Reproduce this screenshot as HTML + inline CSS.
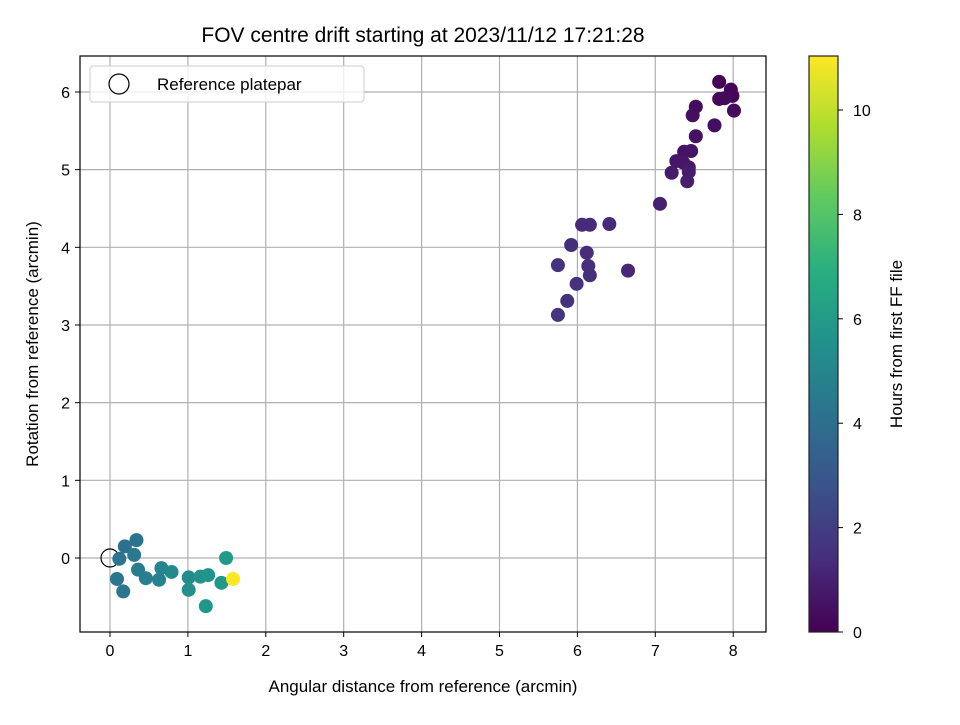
<!DOCTYPE html>
<html><head><meta charset="utf-8"><style>
body{margin:0;background:#fff}
svg text{font-family:"Liberation Sans","DejaVu Sans",sans-serif;fill:#000}
</style></head><body>
<svg id="chart" width="960" height="720" viewBox="0 0 960 720" xmlns="http://www.w3.org/2000/svg">
<defs>
<linearGradient id="vir" x1="0" y1="1" x2="0" y2="0">
<stop offset="0" stop-color="#440154"/><stop offset="0.125" stop-color="#472d7b"/><stop offset="0.25" stop-color="#3b528b"/><stop offset="0.375" stop-color="#2c728e"/><stop offset="0.5" stop-color="#21918c"/><stop offset="0.625" stop-color="#28ae80"/><stop offset="0.75" stop-color="#5ec962"/><stop offset="0.875" stop-color="#addc30"/><stop offset="1" stop-color="#fde725"/>
</linearGradient>
</defs>
<text x="423" y="42" font-size="21" text-anchor="middle">FOV centre drift starting at 2023/11/12 17:21:28</text>
<g id="grid"></g>
<g id="points"></g>
<rect x="80" y="56" width="686" height="576" fill="none" stroke="#000" stroke-width="1.2"/>
<g id="ticks"></g>
<text x="423" y="692" font-size="17" text-anchor="middle">Angular distance from reference (arcmin)</text>
<text transform="translate(38,344) rotate(-90)" font-size="17" text-anchor="middle">Rotation from reference (arcmin)</text>
<g>
<rect x="90" y="66" width="274" height="36" rx="3" fill="#fff" fill-opacity="0.8" stroke="#ccc"/>
<circle cx="119" cy="84" r="10" fill="none" stroke="#000" stroke-width="1.2"/>
<text x="157" y="90" font-size="17">Reference platepar</text>
</g>
<rect x="809" y="56" width="29" height="576" fill="url(#vir)" stroke="#222" stroke-width="1.2"/>
<g id="cbticks"></g>
<text transform="translate(902,344) rotate(-90)" font-size="17" text-anchor="middle">Hours from first FF file</text>
</svg>
<script>
const xs=[7.82,7.97,7.99,7.82,7.89,8.01,7.52,7.48,7.76,7.52,7.37,7.46,7.27,7.36,7.43,7.21,7.43,7.41,7.06,6.06,6.16,6.41,5.92,6.12,6.14,5.75,6.16,6.65,5.99,5.87,5.75,
0.34,0.19,0.12,0.31,0.36,0.09,0.17,0.46,0.66,0.79,0.63,1.01,1.01,1.16,1.26,1.23,1.43,1.49,1.58];
const ys=[6.13,6.03,5.95,5.91,5.92,5.76,5.81,5.70,5.57,5.43,5.23,5.24,5.11,5.09,5.03,4.96,4.97,4.85,4.56,4.29,4.29,4.30,4.03,3.93,3.76,3.77,3.64,3.70,3.53,3.31,3.13,
0.23,0.15,-0.01,0.04,-0.15,-0.27,-0.43,-0.26,-0.13,-0.18,-0.28,-0.25,-0.41,-0.24,-0.22,-0.62,-0.32,0.00,-0.27];
const hours=[0.05,0.1,0.15,0.2,0.25,0.3,0.35,0.4,0.45,0.5,0.55,0.6,0.65,0.7,0.75,0.8,0.85,0.9,1.0,1.3,1.35,1.3,1.45,1.4,1.5,1.55,1.5,1.2,1.55,1.6,1.65,
4.2,4.1,4.3,4.5,4.6,4.3,4.4,4.7,5.0,5.2,4.9,5.4,5.5,5.6,5.7,5.8,5.9,6.0,11.02];
const xTicks=[0,1,2,3,4,5,6,7,8];
const yTicks=[0,1,2,3,4,5,6];
const cTicks=[0,2,4,6,8,10];
const X=v=>110+v*77.9, Y=v=>558-v*77.67, C=v=>632-v*52.2;
const NS="http://www.w3.org/2000/svg";
function mk(t,a,p){const e=document.createElementNS(NS,t);for(const k in a)e.setAttribute(k,a[k]);p.appendChild(e);return e;}
const vir=[[68,1,84],[72,40,120],[62,74,137],[49,104,142],[38,130,142],[31,158,137],[53,183,121],[109,205,89],[180,222,44],[253,231,37]];
function col(h){let t=Math.max(0,Math.min(1,h/11.03))*9;let i=Math.min(8,Math.floor(t)),f=t-i;const a=vir[i],b=vir[i+1];return `rgb(${a.map((v,k)=>Math.round(v+(b[k]-v)*f)).join(',')})`;}
const g=document.getElementById('grid'),tk=document.getElementById('ticks'),pt=document.getElementById('points'),cb=document.getElementById('cbticks');
xTicks.forEach(v=>{
const l=mk('line',{x1:X(v),x2:X(v),y1:56,y2:632,stroke:'#b0b0b0','stroke-width':1.2},g);


mk('line',{x1:X(v),x2:X(v),y1:632,y2:637,stroke:'#000'},tk);
const t=mk('text',{x:X(v),y:656,'font-size':16,'text-anchor':'middle'},tk);t.textContent=v;


});
yTicks.forEach(v=>{
const l=mk('line',{x1:80,x2:766,y1:Y(v),y2:Y(v),stroke:'#b0b0b0','stroke-width':1.2},g);


mk('line',{x1:75,x2:80,y1:Y(v),y2:Y(v),stroke:'#000'},tk);
const t=mk('text',{x:70,y:Y(v)+6,'font-size':16,'text-anchor':'end'},tk);t.textContent=v;


});
cTicks.forEach(v=>{
mk('line',{x1:838,x2:843,y1:C(v),y2:C(v),stroke:'#000'},cb);
const t=mk('text',{x:853,y:C(v)+6,'font-size':16},cb);t.textContent=v;


});
const ref=mk('circle',{cx:X(0),cy:Y(0),r:9,fill:'none',stroke:'#000','stroke-width':1.2},pt);


xs.forEach((v,i)=>{
const c=mk('circle',{cx:X(v),cy:Y(ys[i]),r:7,fill:col(hours[i])},pt);


});
</script>
</body></html>
